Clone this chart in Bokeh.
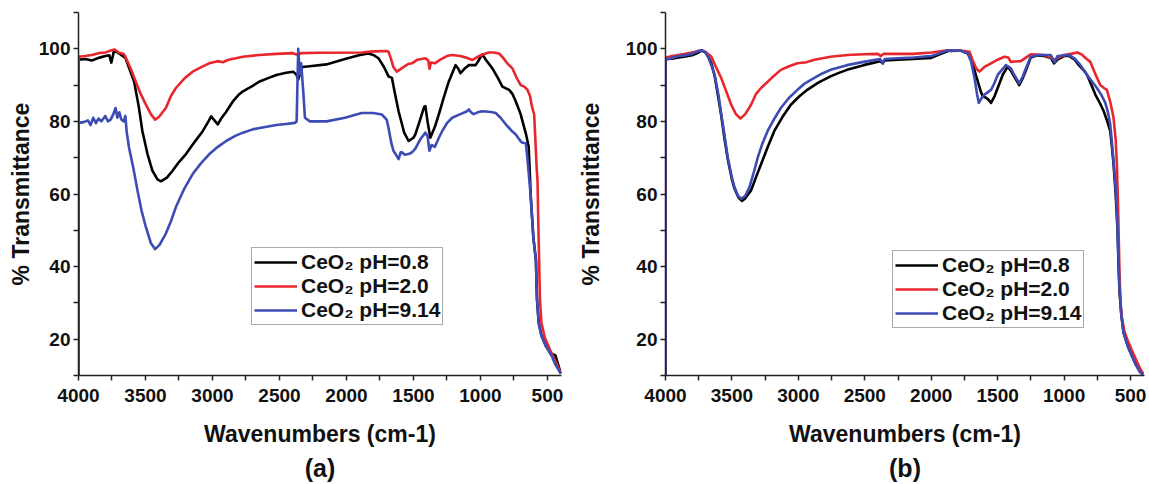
from bokeh.plotting import figure
from bokeh.models import Range1d, FixedTicker, Legend, LegendItem, Title
from bokeh.layouts import row
from bokeh.embed import file_html
from bokeh.resources import INLINE

# ---------------- data ----------------
series_labels = ["CeO\u2082 pH=0.8", "CeO\u2082 pH=2.0", "CeO\u2082 pH=9.14"]
series_colors = ["#000000", "#e8262b", "#3c4cb4"]

x_major = [4000, 3500, 3000, 2500, 2000, 1500, 1000, 500]
x_minor = [3750, 3250, 2750, 2250, 1750, 1250, 750]
y_major = [20, 40, 60, 80, 100]
y_minor = [10, 30, 50, 70, 90, 110]

# panel (a)
a_black_w = [4000, 4000, 3950, 3900, 3850, 3800, 3770, 3755, 3735, 3700, 3650, 3620, 3585, 3550, 3523, 3485, 3448, 3410, 3385, 3340, 3298, 3250, 3198, 3130, 3073, 3030, 3010, 2990, 2960, 2935, 2900, 2848, 2800, 2773, 2700, 2648, 2580, 2523, 2450, 2398, 2375, 2360, 2345, 2330, 2275, 2150, 2011, 1900, 1836, 1800, 1761, 1720, 1686, 1661, 1640, 1611, 1570, 1536, 1500, 1486, 1450, 1420, 1411, 1395, 1374, 1340, 1311, 1270, 1236, 1186, 1165, 1149, 1120, 1086, 1036, 1010, 986, 960, 911, 870, 836, 786, 760, 736, 700, 686, 660, 640, 624, 605, 586, 578, 565, 545, 510, 470, 440, 420, 400]
a_black_t = [10, 97, 97.2, 96.8, 97.5, 98, 98.2, 96.2, 99.5, 98.8, 97.5, 94.5, 91, 84, 77.3, 71, 66.4, 64, 63.5, 64.5, 66.4, 68.8, 71, 74.5, 77.3, 80, 81.4, 80.5, 79.2, 80.8, 82.5, 85.5, 87.5, 88.3, 89.8, 91, 92, 92.8, 93.4, 93.7, 93, 91.5, 93.5, 95, 95.2, 95.7, 97.2, 98.3, 98.7, 98.3, 97.4, 95, 92.4, 92, 88, 82.8, 77, 74.6, 75.5, 76.4, 80.5, 84, 84.2, 80, 75.5, 78.5, 81.9, 87, 91, 95.5, 94.5, 93.3, 94.5, 95.5, 95.5, 97, 98.5, 97, 94.6, 92, 89.6, 88.7, 87.5, 85.5, 82, 80, 76.5, 73, 59, 48, 41.8, 31, 24.5, 21, 18, 16, 15.5, 13, 10.5]

a_red_w = [4000, 4000, 3950, 3900, 3850, 3800, 3760, 3730, 3700, 3660, 3640, 3610, 3573, 3535, 3498, 3460, 3428, 3400, 3348, 3310, 3273, 3210, 3148, 3080, 3025, 2960, 2923, 2880, 2773, 2650, 2523, 2400, 2360, 2340, 2200, 1886, 1800, 1700, 1686, 1670, 1650, 1624, 1580, 1540, 1511, 1470, 1412, 1390, 1380, 1370, 1340, 1300, 1250, 1211, 1150, 1100, 1061, 1020, 980, 936, 900, 861, 830, 800, 761, 730, 699, 670, 649, 630, 615, 599, 590, 580, 574, 568, 562, 556, 545, 520, 480, 440, 400]
a_red_t = [10, 97.8, 98, 98.3, 98.8, 99, 99.5, 99.8, 99, 98.5, 97, 94.5, 91, 87.5, 84.7, 82, 80.5, 81.2, 83.7, 87, 89.2, 91.8, 93.7, 95, 96, 96.6, 96.3, 97, 97.8, 98.3, 98.6, 98.8, 98.3, 98.8, 98.9, 99, 99.3, 99.4, 99.2, 97.5, 95, 93.7, 94.8, 95.8, 96, 97, 97.4, 96.8, 94.5, 96.2, 96, 97, 98, 98.3, 98, 97.5, 96.9, 97.8, 98.5, 99, 99, 98.7, 97.5, 96, 94.6, 92, 90, 89.5, 88.7, 87, 84, 81.9, 75, 67, 63.7, 52, 41.8, 31, 24.5, 20.5, 17, 14, 10.5]

a_blue_w = [4000, 4000, 3960, 3930, 3910, 3890, 3870, 3850, 3830, 3800, 3780, 3760, 3740, 3723, 3710, 3695, 3680, 3663, 3650, 3640, 3623, 3590, 3560, 3530, 3498, 3460, 3428, 3395, 3348, 3310, 3273, 3210, 3148, 3085, 3023, 2960, 2898, 2830, 2773, 2700, 2648, 2523, 2450, 2386, 2372, 2360, 2348, 2338, 2322, 2310, 2273, 2148, 2011, 1886, 1800, 1736, 1700, 1686, 1665, 1649, 1625, 1611, 1595, 1586, 1565, 1536, 1510, 1486, 1450, 1411, 1395, 1381, 1365, 1340, 1310, 1286, 1250, 1211, 1150, 1100, 1086, 1070, 1050, 1020, 986, 920, 886, 850, 811, 770, 736, 700, 686, 661, 645, 624, 605, 586, 578, 565, 545, 510, 470, 440, 400]
a_blue_t = [10, 79.6, 79.8, 80.3, 79, 81, 79.5, 80.8, 80, 81.5, 80, 80.5, 82, 83.7, 81, 82.5, 80.5, 80, 81.5, 77, 72.8, 67, 61, 55.5, 51, 46.5, 44.8, 46, 49.1, 52.5, 56.4, 61.5, 65.5, 68.5, 71, 73, 74.6, 76, 76.9, 77.8, 78.2, 79, 79.3, 79.6, 80, 100, 93, 96, 88, 81, 80, 80, 81, 82.3, 82.3, 81.9, 80.5, 78.2, 74, 71.9, 70.5, 69.6, 71.5, 71.5, 70.8, 71, 71.5, 72.5, 75, 76.9, 76, 71.9, 73.5, 73, 75.5, 77.3, 79.5, 81, 82, 82.8, 83.3, 82.5, 82, 82.5, 82.8, 82.6, 82.3, 81, 79.2, 77.5, 76.4, 74.5, 74.1, 74, 68, 59, 48, 41.8, 31, 24.5, 21, 18, 15.5, 13, 10.5]

# panel (b)
b_black_w = [4000, 4000, 3950, 3900, 3850, 3800, 3760, 3729, 3700, 3680, 3655, 3630, 3600, 3580, 3555, 3531, 3500, 3481, 3450, 3425, 3400, 3356, 3320, 3281, 3230, 3182, 3120, 3057, 2990, 2933, 2850, 2758, 2700, 2634, 2509, 2385, 2365, 2350, 2250, 2135, 2000, 1950, 1874, 1780, 1724, 1690, 1650, 1625, 1612, 1587, 1570, 1550, 1525, 1500, 1460, 1425, 1401, 1370, 1338, 1310, 1288, 1251, 1200, 1150, 1100, 1076, 1050, 1002, 960, 920, 889, 850, 827, 800, 765, 730, 702, 675, 653, 640, 628, 612, 598, 590, 583, 570, 553, 520, 491, 460, 429, 405]
b_black_t = [10, 97.2, 97.3, 97.6, 97.9, 98.2, 98.8, 99.5, 99, 98, 96, 92.5, 86, 81.5, 75, 69.5, 64, 61.5, 59, 58.1, 58.8, 61, 64.5, 68.2, 73, 77.3, 81.2, 84.6, 87, 88.7, 90.7, 92.4, 93.3, 94.2, 95.5, 96.6, 96, 96.8, 97, 97.2, 97.5, 98.3, 99.4, 99.5, 98.7, 96, 91, 88, 86.9, 86.5, 86, 85.1, 86.8, 89.2, 93, 95.1, 94, 92, 90, 92, 94, 97.6, 98.2, 98, 97.5, 96, 97, 98, 98, 97, 95.5, 94, 92.8, 90.5, 87.4, 85, 82.8, 80, 77.3, 73, 68.2, 60, 50, 40, 33, 27, 21.8, 18, 15.5, 13, 11, 10.3]

b_red_w = [4000, 4000, 3950, 3900, 3850, 3800, 3760, 3729, 3700, 3655, 3620, 3580, 3540, 3505, 3470, 3436, 3400, 3356, 3320, 3281, 3200, 3132, 3070, 3007, 2940, 2880, 2758, 2630, 2509, 2400, 2380, 2360, 2250, 2135, 1998, 1874, 1780, 1712, 1690, 1660, 1637, 1600, 1550, 1500, 1450, 1420, 1401, 1370, 1326, 1290, 1251, 1150, 1100, 1076, 1040, 1002, 950, 902, 870, 830, 803, 770, 728, 700, 678, 650, 628, 612, 603, 595, 590, 583, 575, 565, 545, 520, 491, 460, 429, 405]
b_red_t = [10, 97.5, 98, 98.3, 98.6, 99, 99.3, 99.6, 99.2, 97.8, 95, 91.9, 88, 84.6, 82, 80.8, 82, 84.6, 87.5, 89.2, 92, 94.2, 95.2, 96, 96.3, 97, 97.8, 98.3, 98.5, 98.6, 98, 98.6, 98.6, 98.6, 99, 99.6, 99.5, 99.2, 97, 94.5, 93.7, 95, 96, 97, 97.8, 97.6, 96.4, 96.5, 96.6, 97.5, 98.5, 98.3, 97.6, 96.9, 97.6, 98.3, 98.6, 99, 98.5, 97.2, 96.4, 93.5, 90, 89.2, 88.7, 85, 81, 75, 68.2, 58, 50, 38, 30, 26, 22, 19.5, 17, 14.5, 12, 10.5]

b_blue_w = [4000, 4000, 3950, 3900, 3850, 3800, 3760, 3729, 3700, 3680, 3655, 3630, 3600, 3580, 3555, 3531, 3500, 3481, 3455, 3430, 3400, 3368, 3335, 3306, 3270, 3232, 3180, 3132, 3070, 3007, 2950, 2883, 2820, 2758, 2634, 2509, 2385, 2365, 2350, 2250, 2135, 2000, 1950, 1874, 1780, 1724, 1700, 1674, 1655, 1642, 1620, 1599, 1575, 1550, 1525, 1500, 1438, 1401, 1370, 1338, 1310, 1288, 1251, 1200, 1101, 1072, 1050, 964, 920, 877, 827, 790, 753, 720, 690, 670, 653, 635, 616, 602, 590, 583, 570, 553, 520, 491, 460, 429, 405]
b_blue_t = [10, 97, 97.5, 98, 98.2, 98.6, 99.3, 99.6, 99, 97.8, 95.5, 92.8, 87, 81.9, 76, 70, 64.5, 61.9, 59.5, 58.7, 59.5, 61.9, 66, 70, 74, 77.3, 80.8, 83.7, 86.5, 88.7, 90.5, 91.9, 93.2, 94.2, 95.5, 96.4, 97.2, 96, 97.2, 97.4, 97.6, 98, 98.6, 99.6, 99.5, 98.7, 96.5, 91.9, 87.5, 85.1, 86.5, 87.4, 88, 88.7, 90.5, 92.8, 95.5, 94.6, 92.5, 90.5, 92.5, 94.6, 97.8, 98.3, 98.3, 96.3, 98, 98.3, 97.3, 95.5, 92.8, 91, 89.2, 87.3, 85.1, 82.5, 79.2, 72, 63.7, 55, 42, 34, 27, 21.8, 18, 15.5, 13, 11, 10.3]

FONT = "Liberation Sans"
FIG_H = 483


def make_panel(tag, series, width, border_left, border_right, legend_xy, ylabel_standoff):
    p = figure(width=width, height=FIG_H, output_backend="svg", toolbar_location=None,
               x_range=Range1d(4000, 395), y_range=Range1d(10, 110),
               min_border_left=border_left, min_border_right=border_right,
               min_border_top=12, min_border_bottom=FIG_H - 12 - 364)
    p.outline_line_color = None
    p.grid.visible = False
    p.background_fill_color = "white"

    renderers = []
    for (w, t), color in zip(series, series_colors):
        r = p.line(w, t, line_color=color, line_width=2.6, line_join="round")
        renderers.append(r)

    p.xaxis.ticker = FixedTicker(ticks=x_major, minor_ticks=x_minor)
    p.yaxis.ticker = FixedTicker(ticks=y_major, minor_ticks=y_minor)
    for ax in (p.xaxis[0], p.yaxis[0]):
        ax.axis_line_width = 1.5
        ax.axis_line_color = "#222222"
        ax.major_tick_line_color = "#222222"
        ax.minor_tick_line_color = "#222222"
        ax.major_tick_line_width = 1.5
        ax.minor_tick_line_width = 1.5
        ax.major_tick_in = 0
        ax.major_tick_out = 5
        ax.minor_tick_in = 0
        ax.minor_tick_out = 5
        ax.major_label_text_font = FONT
        ax.major_label_text_font_style = "bold"
        ax.major_label_text_font_size = "19px"
        ax.major_label_text_color = "#111111"
        ax.axis_label_text_font = FONT
        ax.axis_label_text_font_style = "bold"
        ax.axis_label_text_font_size = "23px"
        ax.axis_label_text_color = "#111111"
    p.xaxis.axis_label = "Wavenumbers (cm-1)"
    p.yaxis.axis_label = "% Transmittance"
    p.xaxis.major_label_standoff = 8
    p.yaxis.major_label_standoff = 3
    p.xaxis.axis_label_standoff = 16
    p.yaxis.axis_label_standoff = ylabel_standoff

    legend = Legend(items=[LegendItem(label=lab, renderers=[r])
                           for lab, r in zip(series_labels, renderers)],
                    location=legend_xy)
    legend.label_text_font = FONT
    legend.label_text_font_style = "bold"
    legend.label_text_font_size = "21px"
    legend.label_text_color = "#111111"
    legend.glyph_width = 43
    legend.glyph_height = 24
    legend.label_height = 24
    legend.label_standoff = 4
    legend.spacing = 0
    legend.padding = 2
    legend.margin = 0
    legend.border_line_color = "#555555"
    legend.border_line_width = 1
    legend.background_fill_alpha = 1
    p.add_layout(legend, "center")

    p.add_layout(Title(text=tag, align="center", text_font=FONT, text_font_style="bold",
                       text_font_size="25px", text_color="#111111", standoff=4), "below")
    return p


pa = make_panel("(a)", [(a_black_w, a_black_t), (a_red_w, a_red_t), (a_blue_w, a_blue_t)],
                570, 78, 9, (173, 50), 2)
pb = make_panel("(b)", [(b_black_w, b_black_t), (b_red_w, b_red_t), (b_blue_w, b_blue_t)],
                578, 95, 4, (227, 47), 19)

layout = row(pa, pb)
open("out.html", "w").write(file_html(layout, INLINE))
